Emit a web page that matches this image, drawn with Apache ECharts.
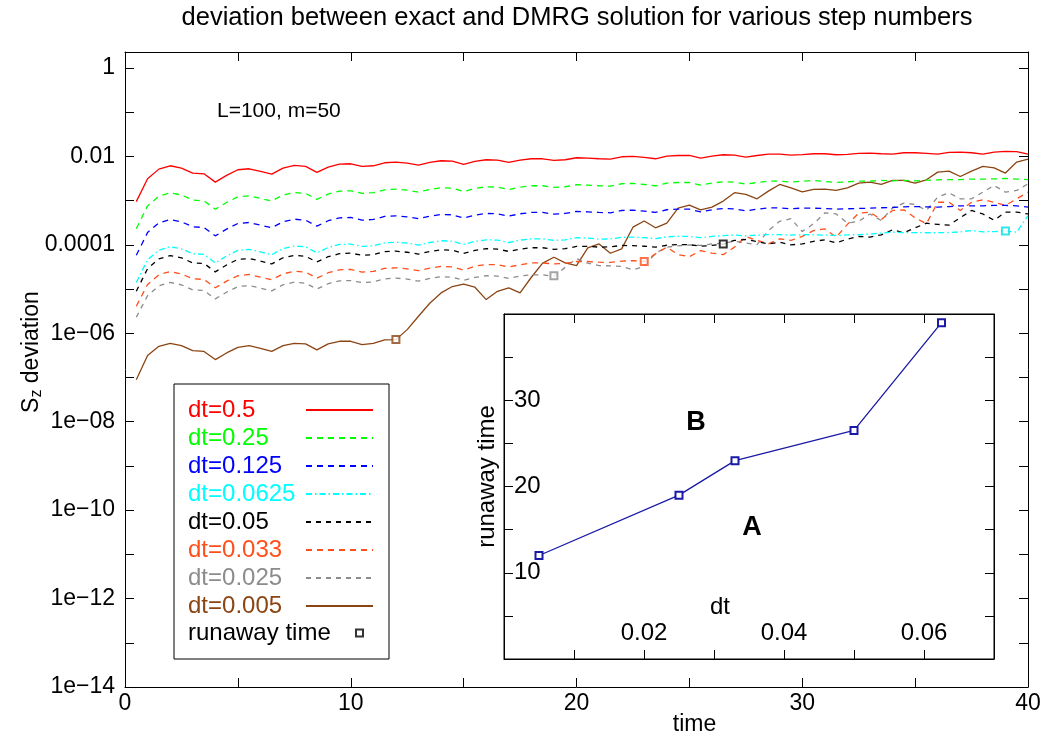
<!DOCTYPE html>
<html>
<head>
<meta charset="utf-8">
<script src="https://cdn.jsdelivr.net/npm/echarts@6/dist/echarts.min.js"></script>
<style>html,body{margin:0;padding:0;background:#fff}#c{width:1050px;height:740px}</style>
</head>
<body>
<div id="c"></div>
<script>
const times = [0.5,1,1.5,2,2.5,3,3.5,4,4.5,5,5.5,6,6.5,7,7.5,8,8.5,9,9.5,10,
10.5,11,11.5,12,12.5,13,13.5,14,14.5,15,15.5,16,16.5,17,17.5,18,18.5,19,19.5,20,
20.5,21,21.5,22,22.5,23,23.5,24,24.5,25,25.5,26,26.5,27,27.5,28,28.5,29,29.5,30,
30.5,31,31.5,32,32.5,33,33.5,34,34.5,35,35.5,36,36.5,37,37.5,38,38.5,39,39.5,40];

const dev_dt0_5 = [9.5e-4,3.12e-3,5.16e-3,6.15e-3,5.45e-3,4.2e-3,4.05e-3,2.62e-3,3.72e-3,4.99e-3,
5.26e-3,4.57e-3,3.98e-3,5.45e-3,6.25e-3,5.94e-3,4.35e-3,5.75e-3,6.7e-3,6.82e-3,
5.94e-3,6.15e-3,7.19e-3,7.45e-3,7.06e-3,6.37e-3,7.31e-3,7.98e-3,7.83e-3,6.59e-3,
7.71e-3,8.41e-3,8.26e-3,7.31e-3,8.26e-3,8.85e-3,8.85e-3,8.13e-3,8.41e-3,9.33e-3,
9.16e-3,8.85e-3,8.71e-3,9.82e-3,1.0e-2,9.48e-3,8.85e-3,1.02e-2,1.05e-2,1.05e-2,
9.16e-3,1.02e-2,1.09e-2,1.07e-2,9.66e-3,1.05e-2,1.13e-2,1.13e-2,1.07e-2,1.10e-2,
1.15e-2,1.15e-2,1.09e-2,1.11e-2,1.17e-2,1.19e-2,1.15e-2,1.13e-2,1.21e-2,1.21e-2,
1.17e-2,1.13e-2,1.23e-2,1.25e-2,1.21e-2,1.13e-2,1.25e-2,1.30e-2,1.28e-2,1.13e-2];

const dev_dt0_25 = [2.33e-4,7.6e-4,1.26e-3,1.51e-3,1.34e-3,1.03e-3,9.9e-4,6.4e-4,9.1e-4,1.22e-3,
1.29e-3,1.12e-3,9.8e-4,1.34e-3,1.53e-3,1.46e-3,1.07e-3,1.41e-3,1.64e-3,1.67e-3,
1.46e-3,1.51e-3,1.76e-3,1.83e-3,1.73e-3,1.56e-3,1.79e-3,1.96e-3,1.92e-3,1.61e-3,
1.89e-3,2.06e-3,2.02e-3,1.79e-3,2.02e-3,2.17e-3,2.17e-3,1.99e-3,2.06e-3,2.29e-3,
2.24e-3,2.17e-3,2.13e-3,2.41e-3,2.45e-3,2.32e-3,2.17e-3,2.5e-3,2.57e-3,2.57e-3,
2.24e-3,2.5e-3,2.67e-3,2.62e-3,2.37e-3,2.57e-3,2.77e-3,2.77e-3,2.62e-3,2.75e-3,
2.86e-3,2.72e-3,2.58e-3,2.67e-3,2.77e-3,2.77e-3,2.86e-3,2.81e-3,2.86e-3,2.81e-3,
2.9e-3,2.96e-3,3.0e-3,3.0e-3,3.07e-3,3.07e-3,3.1e-3,3.18e-3,3.07e-3,3.0e-3];

const dev_dt0_125 = [5.8e-5,1.9e-4,3.15e-4,3.75e-4,3.32e-4,2.56e-4,2.47e-4,1.6e-4,2.27e-4,3.04e-4,
3.21e-4,2.79e-4,2.43e-4,3.32e-4,3.81e-4,3.62e-4,2.65e-4,3.51e-4,4.09e-4,4.16e-4,
3.62e-4,3.75e-4,4.39e-4,4.54e-4,4.31e-4,3.89e-4,4.46e-4,4.87e-4,4.78e-4,4.02e-4,
4.7e-4,5.13e-4,5.04e-4,4.46e-4,5.04e-4,5.4e-4,5.4e-4,4.96e-4,5.13e-4,5.69e-4,
5.59e-4,5.4e-4,5.31e-4,5.99e-4,6.1e-4,5.78e-4,5.4e-4,6.22e-4,6.4e-4,6.4e-4,
5.59e-4,6.22e-4,6.65e-4,6.53e-4,5.89e-4,6.4e-4,6.89e-4,6.89e-4,6.53e-4,6.8e-4,
6.75e-4,6.65e-4,6.43e-4,6.55e-4,6.65e-4,6.75e-4,6.9e-4,7.0e-4,7.24e-4,7.35e-4,
7.24e-4,7.1e-4,7.35e-4,7.64e-4,7.64e-4,7.64e-4,7.8e-4,7.8e-4,7.64e-4,7.1e-4];

const dev_dt0_0625 = [1.41e-5,4.6e-5,7.6e-5,9.1e-5,8.1e-5,6.3e-5,6.1e-5,3.9e-5,5.6e-5,7.5e-5,
7.9e-5,6.9e-5,6.0e-5,8.2e-5,9.4e-5,9.0e-5,6.6e-5,8.7e-5,1.02e-4,1.04e-4,
9.2e-5,9.5e-5,1.11e-4,1.15e-4,1.09e-4,9.9e-5,1.13e-4,1.24e-4,1.21e-4,1.02e-4,
1.2e-4,1.3e-4,1.28e-4,1.13e-4,1.28e-4,1.37e-4,1.37e-4,1.26e-4,1.3e-4,1.45e-4,
1.42e-4,1.35e-4,1.36e-4,1.48e-4,1.5e-4,1.45e-4,1.38e-4,1.52e-4,1.56e-4,1.55e-4,
1.45e-4,1.55e-4,1.62e-4,1.66e-4,1.6e-4,1.66e-4,1.7e-4,1.7e-4,1.66e-4,1.7e-4,
1.69e-4,1.66e-4,1.63e-4,1.68e-4,1.71e-4,1.75e-4,1.85e-4,1.94e-4,1.88e-4,1.9e-4,
1.88e-4,1.88e-4,1.9e-4,1.97e-4,2.11e-4,1.97e-4,2.0e-4,2.05e-4,1.94e-4,4.6e-4];

const dev_dt0_05 = [8.9e-6,2.9e-5,4.8e-5,5.7e-5,5.1e-5,3.9e-5,3.8e-5,2.45e-5,3.5e-5,4.7e-5,
4.9e-5,4.3e-5,3.7e-5,5.1e-5,5.8e-5,5.5e-5,4.1e-5,5.4e-5,6.3e-5,6.5e-5,
5.8e-5,6.0e-5,7.0e-5,7.2e-5,6.8e-5,6.2e-5,7.1e-5,7.7e-5,7.6e-5,6.4e-5,
7.5e-5,8.2e-5,8.0e-5,7.1e-5,8.0e-5,8.6e-5,8.6e-5,7.9e-5,8.2e-5,9.2e-5,
9.2e-5,8.9e-5,9.0e-5,9.7e-5,9.6e-5,9.3e-5,8.9e-5,9.8e-5,1.02e-4,1.01e-4,
9.3e-5,9.7e-5,1.04e-4,1.26e-4,1.32e-4,1.19e-4,1.05e-4,1.15e-4,1.0e-4,1.05e-4,
1.2e-4,1.3e-4,1.11e-4,1.35e-4,1.55e-4,1.5e-4,1.68e-4,2.19e-4,1.87e-4,2.43e-4,
3.09e-4,2.9e-4,2.8e-4,4.1e-4,6.0e-4,5.0e-4,3.6e-4,5.5e-4,5.5e-4,5.0e-4];

const dev_dt0_033 = [4.1e-6,1.27e-5,2.1e-5,2.5e-5,2.2e-5,1.71e-5,1.65e-5,1.07e-5,1.51e-5,2.0e-5,
2.14e-5,1.86e-5,1.62e-5,2.2e-5,2.54e-5,2.42e-5,1.77e-5,2.34e-5,2.73e-5,2.78e-5,
2.42e-5,2.5e-5,2.93e-5,3.03e-5,2.87e-5,2.6e-5,2.98e-5,3.25e-5,3.19e-5,2.68e-5,
3.3e-5,3.6e-5,3.55e-5,3.15e-5,3.55e-5,3.9e-5,3.9e-5,3.7e-5,3.8e-5,4.2e-5,
4.2e-5,4.05e-5,4.0e-5,4.27e-5,4.4e-5,4.2e-5,6.25e-5,8.9e-5,6.0e-5,5.4e-5,
7.4e-5,6.5e-5,6.0e-5,8.9e-5,1.55e-4,1.26e-4,1.05e-4,1.37e-4,1.26e-4,1.55e-4,
2.1e-4,2.3e-4,1.49e-4,2.9e-4,5.2e-4,5.5e-4,3.7e-4,6.0e-4,6.2e-4,4.1e-4,
3.0e-4,9.2e-4,9.2e-4,6.0e-4,9.2e-4,1.05e-3,9.2e-4,7.8e-4,1.1e-3,1.56e-3];

const dev_dt0_025 = [2.3e-6,7.1e-6,1.18e-5,1.41e-5,1.25e-5,9.6e-6,9.3e-6,6.0e-6,8.5e-6,1.14e-5,
1.2e-5,1.05e-5,9.1e-6,1.25e-5,1.43e-5,1.36e-5,1.0e-5,1.32e-5,1.53e-5,1.56e-5,
1.4e-5,1.45e-5,1.7e-5,1.77e-5,1.68e-5,1.51e-5,1.74e-5,1.9e-5,1.86e-5,1.57e-5,
1.84e-5,2.0e-5,1.97e-5,1.74e-5,1.97e-5,2.1e-5,2.1e-5,1.95e-5,3.1e-5,4.9e-5,
3.85e-5,3.4e-5,3.35e-5,3.24e-5,2.72e-5,3.24e-5,6.5e-5,8.9e-5,9.5e-5,1.0e-4,
9.7e-5,1.05e-4,1.09e-4,1.21e-4,1.1e-4,1.01e-4,2.1e-4,3.4e-4,3.9e-4,2.0e-4,
3.0e-4,5.3e-4,5.0e-4,3.1e-4,3.4e-4,5.0e-4,3.55e-4,6.9e-4,8.8e-4,8.2e-4,
6.0e-4,1.2e-3,1.5e-3,1.1e-3,1.1e-3,1.56e-3,2.2e-3,1.56e-3,1.7e-3,2.4e-3];

const dev_dt0_005 = [8.9e-8,3.13e-7,5.07e-7,5.94e-7,5.25e-7,4.07e-7,3.89e-7,2.54e-7,3.59e-7,4.82e-7,
5.25e-7,4.57e-7,3.89e-7,5.25e-7,5.94e-7,5.74e-7,4.2e-7,5.75e-7,6.6e-7,6.6e-7,
5.55e-7,5.94e-7,7.08e-7,7.19e-7,1.21e-6,2.43e-6,4.79e-6,8.18e-6,1.14e-5,1.29e-5,
1.1e-5,5.78e-6,8.9e-6,1.06e-5,8.18e-6,1.85e-5,3.85e-5,5.25e-5,3.91e-5,3.39e-5,
8.5e-5,1.05e-4,6.46e-5,8.13e-5,2.51e-4,3.47e-4,2.43e-4,3.09e-4,6.76e-4,7.94e-4,
6.17e-4,7.13e-4,9.77e-4,1.51e-3,1.38e-3,1.1e-3,1.64e-3,2.32e-3,1.95e-3,1.58e-3,
1.79e-3,1.82e-3,1.7e-3,1.95e-3,2.49e-3,2.63e-3,2.32e-3,2.86e-3,2.86e-3,2.49e-3,
2.96e-3,4.42e-3,4.66e-3,3.52e-3,4.66e-3,5.94e-3,5.53e-3,4.2e-3,7.45e-3,8.7e-3];

const curveNames = ['dt=0.5','dt=0.25','dt=0.125','dt=0.0625','dt=0.05','dt=0.033','dt=0.025','dt=0.005'];
const curveData = [dev_dt0_5, dev_dt0_25, dev_dt0_125, dev_dt0_0625, dev_dt0_05, dev_dt0_033, dev_dt0_025, dev_dt0_005];

// runaway points (main plot markers)
const runawayNames = ['dt=0.005','dt=0.025','dt=0.033','dt=0.05','dt=0.0625'];
const runawayT = [12, 19, 23, 26.5, 39];
const runawayDev = [7.2e-7, 2.0e-5, 4.2e-5, 1.05e-4, 2.05e-4];

// inset data
const insetDt = [0.005, 0.025, 0.033, 0.05, 0.0625];
const insetRunaway = [12, 19, 23, 26.5, 39];

// tick labels
const xTickLabels = ['0','10','20','30','40'];
const xLabelValues = [0,10,20,30,40];
const xTickValues = [0,5,10,15,20,25,30,35,40];
const yLabelValues = [1e-14,1e-12,1e-10,1e-8,1e-6,1e-4,1e-2,1];
const yTickLabels = ['1e\u221214','1e\u221212','1e\u221210','1e\u221208','1e\u221206','0.0001','0.01','1'];
const yTickValues = [1e-14,1e-13,1e-12,1e-11,1e-10,1e-9,1e-8,1e-7,1e-6,1e-5,1e-4,1e-3,1e-2,1e-1,1];
const insetXLabelValues = [0.02,0.04,0.06];
const insetXTickLabels = ['0.02','0.04','0.06'];
const insetXTickValues = [0.01,0.02,0.03,0.04,0.05,0.06];
const insetYLabelValues = [10,20,30];
const insetYTickLabels = ['10','20','30'];
const insetYTickValues = [5,10,15,20,25,30,35];

// styles
const FONT = '"Liberation Sans", Arial, Helvetica, sans-serif';
const curveColors = ['#ff0000','#00ff00','#0000ff','#00ffff','#000000','#ff4f1a','#8c8c8c','#8b4513'];
const curveDash = ['solid',[6,5],[6,5],[6,3,1.5,3],[5,5],[6,5],[5,5],'solid'];
const runawayColors = ['#8b4513','#8c8c8c','#ff4f1a','#000000','#00e0e0'];
const insetColor = '#1a1aa6';

function nearIdx(arr, v) {
  for (let i = 0; i < arr.length; i++) {
    if (Math.abs(arr[i] - v) <= 1e-9 * Math.max(1, Math.abs(v))) return i;
  }
  return -1;
}
function nearLogIdx(arr, v) {
  for (let i = 0; i < arr.length; i++) {
    if (Math.abs(Math.log10(arr[i]) - Math.log10(v)) < 1e-6) return i;
  }
  return -1;
}

const chart = echarts.init(document.getElementById('c'), null, {renderer: 'canvas'});

const axisLineStyle = {show: true, onZero: false, lineStyle: {color: '#000', width: 1}};
const tickStyle = {lineStyle: {color: '#000', width: 1}};

const series = curveNames.map((name, i) => ({
  type: 'line', name: name, xAxisIndex: 0, yAxisIndex: 0,
  data: times.map((t, k) => [t, curveData[i][k]]),
  symbol: 'none', showSymbol: false,
  lineStyle: {color: curveColors[i], width: 1.3, type: curveDash[i]},
  itemStyle: {color: curveColors[i]},
  z: 3 + (8 - i) * 0.01
}));

series.push({
  type: 'scatter', name: 'runaway time', xAxisIndex: 0, yAxisIndex: 0,
  symbol: 'emptyRect', symbolSize: 7,
  itemStyle: {color: '#000', borderWidth: 1.5},
  data: runawayT.map((t, i) => ({value: [t, runawayDev[i]], itemStyle: {color: runawayColors[i], borderColor: runawayColors[i]}})),
  z: 6
});

series.push({
  type: 'line', name: 'inset', xAxisIndex: 2, yAxisIndex: 2,
  data: insetDt.map((d, i) => [d, insetRunaway[i]]),
  symbol: 'emptyRect', symbolSize: 7, showSymbol: true,
  lineStyle: {color: insetColor, width: 1.3},
  itemStyle: {color: insetColor, borderWidth: 1.5},
  z: 6
});

const LEG_FS = 24;
const legendRich = {};
curveNames.forEach((n, i) => {
  legendRich['c' + i] = {width: 113, align: 'left', color: curveColors[i], fontSize: LEG_FS, fontFamily: FONT};
});

const TICK_FS = 23;

const option = {
  animation: false,
  backgroundColor: '#fff',
  title: [
    {text: 'deviation between exact and DMRG solution for various step numbers', left: 577, top: 5, padding: 0,
     textAlign: 'center', textStyle: {fontSize: 25.5, fontWeight: 'normal', fontFamily: FONT, color: '#000'}},
    {text: 'L=100, m=50', left: 217, top: 101, padding: 0,
     textStyle: {fontSize: 21, fontWeight: 'normal', fontFamily: FONT, color: '#000'}},
    {text: 'B', left: 696, top: 409, padding: 0, textAlign: 'center', z: 10,
     textStyle: {fontSize: 27, fontWeight: 'bold', fontFamily: FONT, color: '#000'}},
    {text: 'A', left: 752, top: 514, padding: 0, textAlign: 'center', z: 10,
     textStyle: {fontSize: 27, fontWeight: 'bold', fontFamily: FONT, color: '#000'}},
    {text: 'dt', left: 720, top: 595, padding: 0, textAlign: 'center', z: 10,
     textStyle: {fontSize: 24, fontWeight: 'normal', fontFamily: FONT, color: '#000'}}
  ],
  grid: [
    {left: 125, top: 52, right: 22, bottom: 53, outerBoundsMode: 'none', show: false},
    {left: 504, top: 314, right: 56, bottom: 81, outerBoundsMode: 'none', show: true,
     backgroundColor: '#fff', borderColor: '#000', borderWidth: 1, z: 4}
  ],
  legend: [
    {
      data: curveNames.map(n => ({name: n})),
      orient: 'vertical', left: 174, top: 384, padding: [14, 15, 41, 14],
      itemGap: 4, itemWidth: 67, itemHeight: 14, align: 'right',
      borderColor: '#000', borderWidth: 1, backgroundColor: '#fff',
      selectedMode: false, z: 8,
      itemStyle: {opacity: 0},
      textStyle: {fontSize: LEG_FS, fontFamily: FONT, rich: legendRich},
      formatter: name => '{c' + curveNames.indexOf(name) + '|' + name + '}'
    },
    {
      data: [{name: 'runaway time'}],
      orient: 'vertical', left: 188, top: 621, padding: 0,
      itemWidth: 7, itemHeight: 7, align: 'right', selectedMode: false, z: 9,
      textStyle: {fontSize: LEG_FS, fontFamily: FONT, rich: {r: {width: 163, align: 'left', color: '#000', fontSize: LEG_FS, fontFamily: FONT}}},
      formatter: n => '{r|' + n + '}'
    }
  ],
  xAxis: [
    {type: 'value', gridIndex: 0, position: 'bottom', min: 0, max: 40,
     name: 'time', nameLocation: 'middle', nameGap: 26, nameMoveOverlap: false,
     nameTextStyle: {fontSize: TICK_FS, fontFamily: FONT, color: '#000', padding: [0, 0, 0, 236]},
     axisLine: axisLineStyle,
     axisTick: Object.assign({inside: true, length: 9, customValues: xTickValues}, tickStyle),
     axisLabel: {customValues: xLabelValues, formatter: v => xTickLabels[nearIdx(xLabelValues, v)],
                 fontSize: TICK_FS, fontFamily: FONT, color: '#000', margin: 5},
     splitLine: {show: false}},
    {type: 'value', gridIndex: 0, position: 'top', min: 0, max: 40,
     axisLine: axisLineStyle,
     axisTick: Object.assign({inside: true, length: 9, customValues: xTickValues}, tickStyle),
     axisLabel: {show: false}, splitLine: {show: false}},
    {type: 'value', gridIndex: 1, position: 'bottom', min: 0, max: 0.07,
     axisLine: axisLineStyle,
     axisTick: Object.assign({inside: true, length: 9, customValues: insetXTickValues}, tickStyle),
     axisLabel: {inside: true, customValues: insetXLabelValues,
                 formatter: v => insetXTickLabels[nearIdx(insetXLabelValues, v)],
                 fontSize: LEG_FS, fontFamily: FONT, color: '#000', margin: 14},
     splitLine: {show: false}, z: 5},
    {type: 'value', gridIndex: 1, position: 'top', min: 0, max: 0.07,
     axisLine: axisLineStyle,
     axisTick: Object.assign({inside: true, length: 9, customValues: insetXTickValues}, tickStyle),
     axisLabel: {show: false}, splitLine: {show: false}, z: 5}
  ],
  yAxis: [
    {type: 'log', logBase: 10, gridIndex: 0, position: 'left', min: 1e-14, max: 2.3,
     name: '{s|S}{z|z}{s| deviation}', nameLocation: 'middle', nameRotate: 90, nameGap: 80, nameMoveOverlap: false,
     nameTextStyle: {fontSize: TICK_FS, fontFamily: FONT, color: '#000', padding: [0, 0, 0, 35],
       rich: {s: {fontSize: TICK_FS, fontFamily: FONT, color: '#000', lineHeight: 25, verticalAlign: 'top'},
              z: {fontSize: 16, fontFamily: FONT, color: '#000', lineHeight: 10, verticalAlign: 'bottom'}}},
     axisLine: axisLineStyle,
     axisTick: Object.assign({inside: true, length: 9, customValues: yTickValues}, tickStyle),
     axisLabel: {customValues: yLabelValues, formatter: v => yTickLabels[nearLogIdx(yLabelValues, v)],
                 fontSize: TICK_FS, fontFamily: FONT, color: '#000', margin: 10},
     splitLine: {show: false}, minorTick: {show: false}},
    {type: 'log', logBase: 10, gridIndex: 0, position: 'right', min: 1e-14, max: 2.3,
     axisLine: axisLineStyle,
     axisTick: Object.assign({inside: true, length: 9, customValues: yTickValues}, tickStyle),
     axisLabel: {show: false}, splitLine: {show: false}},
    {type: 'value', gridIndex: 1, position: 'left', min: 0, max: 40,
     name: 'runaway time', nameLocation: 'middle', nameRotate: 90, nameGap: 5,
     nameTextStyle: {fontSize: LEG_FS, fontFamily: FONT, color: '#000', padding: [0, 0, 0, 20]},
     axisLine: axisLineStyle,
     axisTick: Object.assign({inside: true, length: 9, customValues: insetYTickValues}, tickStyle),
     axisLabel: {inside: true, customValues: insetYLabelValues,
                 formatter: v => insetYTickLabels[nearIdx(insetYLabelValues, v)],
                 fontSize: LEG_FS, fontFamily: FONT, color: '#000', margin: 10},
     splitLine: {show: false}, z: 5},
    {type: 'value', gridIndex: 1, position: 'right', min: 0, max: 40,
     axisLine: axisLineStyle,
     axisTick: Object.assign({inside: true, length: 9, customValues: insetYTickValues}, tickStyle),
     axisLabel: {show: false}, splitLine: {show: false}, z: 5}
  ],
  series: series
};

chart.setOption(option);
</script>
</body>
</html>
